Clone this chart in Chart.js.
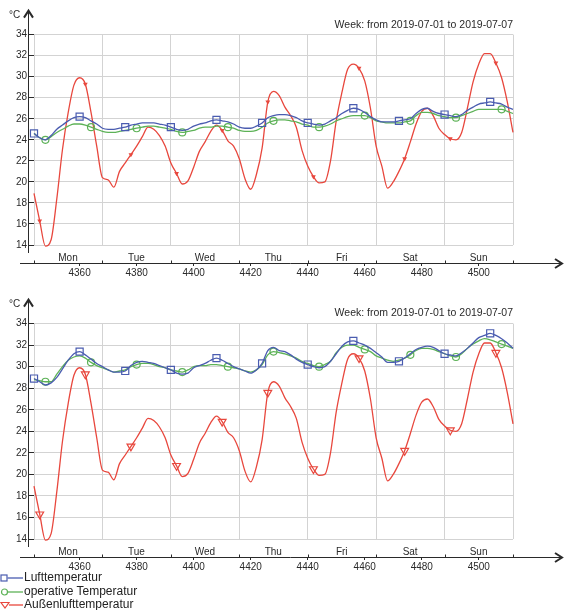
<!DOCTYPE html>
<html>
<head>
<meta charset="utf-8">
<script src="https://cdn.jsdelivr.net/npm/chart.js@4.4.1/dist/chart.umd.min.js"></script>
<style>
  html, body { margin: 0; padding: 0; background: #fff; }
  body { width: 565px; height: 610px; position: relative; overflow: hidden; font-family: "Liberation Sans", Arial, sans-serif; }
  .box { position: absolute; left: 0; width: 565px; height: 285px; }
  #top { top: 0; }
  #bottom { top: 290px; }
  #legend { position: absolute; left: 0; top: 571px; font-size: 12px; color: #222; }
  #legend div { height: 13.5px; line-height: 13.5px; display: flex; align-items: center; white-space: nowrap; }
  #legend svg { margin-right: 1px; }
</style>
</head>
<body>
<div class="box" id="top"><canvas id="c1" width="565" height="285"></canvas></div>
<div class="box" id="bottom"><canvas id="c2" width="565" height="285"></canvas></div>
<div id="legend"></div>
<script>
// hours of the year, every 2 h, Mon 2019-07-01 00:00 .. Mon 2019-07-08 00:00
const hours = [
  4344, 4346, 4348, 4350, 4352, 4354, 4356, 4358, 4360, 4362,
  4364, 4366, 4368, 4370, 4372, 4374, 4376, 4378, 4380, 4382,
  4384, 4386, 4388, 4390, 4392, 4394, 4396, 4398, 4400, 4402,
  4404, 4406, 4408, 4410, 4412, 4414, 4416, 4418, 4420, 4422,
  4424, 4426, 4428, 4430, 4432, 4434, 4436, 4438, 4440, 4442,
  4444, 4446, 4448, 4450, 4452, 4454, 4456, 4458, 4460, 4462,
  4464, 4466, 4468, 4470, 4472, 4474, 4476, 4478, 4480, 4482,
  4484, 4486, 4488, 4490, 4492, 4494, 4496, 4498, 4500, 4502,
  4504, 4506, 4508, 4510, 4512
];
const dayStarts = [4344, 4368, 4392, 4416, 4440, 4464, 4488, 4512];
const dayNames = ['Mon', 'Tue', 'Wed', 'Thu', 'Fri', 'Sat', 'Sun'];
const hourTicks = [4360, 4380, 4400, 4420, 4440, 4460, 4480, 4500];
const titleText = 'Week: from 2019-07-01 to 2019-07-07';
const seriesNames = ['Lufttemperatur', 'operative Temperatur', 'Außenlufttemperatur'];

// Außenlufttemperatur (same in both charts)
const outdoor = [
  18.9, 16.3, 13.9, 14.5, 18.4, 23.1, 26.6, 29.2, 29.9, 29.3,
  26.6, 23.4, 20.4, 20.2, 19.5, 21.0, 21.8, 22.6, 23.4, 24.3,
  25.2, 25.0, 24.4, 23.4, 21.8, 20.8, 19.8, 20.1, 21.4, 22.9,
  23.8, 24.8, 25.4, 24.9, 23.9, 23.4, 22.2, 20.3, 19.3, 20.7,
  23.2, 27.6, 28.6, 28.2, 27.1, 26.3, 25.2, 23.0, 21.5, 20.5,
  19.9, 20.0, 22.0, 25.8, 28.5, 30.7, 31.2, 30.8, 29.6, 27.0,
  23.4, 21.5, 19.4, 20.0, 21.0, 22.2, 23.8, 25.5, 26.7, 27.0,
  26.3, 25.1, 24.5, 24.1, 24.0, 24.7, 27.0, 29.5, 31.2, 32.2,
  32.2, 31.3, 29.9, 27.6, 24.7
];
// upper chart
const airTop = [
  24.6, 24.2, 24.0, 24.4, 25.0, 25.4, 25.8, 26.1, 26.2, 26.1,
  25.8, 25.5, 25.1, 25.0, 25.0, 25.1, 25.2, 25.4, 25.5, 25.6,
  25.6, 25.6, 25.5, 25.4, 25.2, 25.0, 24.9, 25.0, 25.3, 25.5,
  25.6, 25.8, 25.9, 25.8, 25.7, 25.5, 25.2, 25.1, 25.1, 25.3,
  25.6, 26.1, 26.3, 26.4, 26.4, 26.3, 26.1, 25.8, 25.6, 25.5,
  25.4, 25.5, 25.8, 26.1, 26.5, 26.8, 27.0, 26.9, 26.6, 26.2,
  25.9, 25.7, 25.7, 25.7, 25.8, 25.9, 26.0, 26.5, 26.9, 27.0,
  26.7, 26.5, 26.4, 26.3, 26.2, 26.4, 26.8, 27.1, 27.4, 27.5,
  27.6, 27.5, 27.4, 27.1, 26.9
];
const operativeTop = [
  24.6, 24.2, 24.0, 24.3, 24.7, 25.0, 25.3, 25.5, 25.5, 25.4,
  25.2, 25.0, 24.8, 24.7, 24.7, 24.8, 24.9, 25.0, 25.1, 25.2,
  25.3, 25.3, 25.2, 25.1, 25.0, 24.8, 24.7, 24.8, 24.9, 25.1,
  25.2, 25.2, 25.3, 25.3, 25.2, 25.1, 24.9, 24.8, 24.8, 24.9,
  25.2, 25.6, 25.8, 25.9, 25.9, 25.8, 25.7, 25.5, 25.4, 25.2,
  25.2, 25.3, 25.5, 25.8, 26.0, 26.2, 26.3, 26.3, 26.3, 26.1,
  25.8, 25.7, 25.6, 25.6, 25.6, 25.7, 25.8, 26.3, 26.6, 26.6,
  26.5, 26.3, 26.2, 26.1, 26.1, 26.3, 26.5, 26.7, 26.9, 26.9,
  26.9, 26.9, 26.9, 26.7, 26.5
];
// lower chart
const airBottom = [
  28.9, 28.6, 28.3, 28.5, 29.0, 29.8, 30.6, 31.2, 31.4, 31.1,
  30.7, 30.3, 30.0, 29.7, 29.5, 29.5, 29.6, 30.1, 30.4, 30.5,
  30.4, 30.3, 30.1, 29.9, 29.7, 29.4, 29.3, 29.4, 29.9, 30.1,
  30.3, 30.6, 30.8, 30.6, 30.3, 30.0, 29.8, 29.6, 29.4, 29.7,
  30.3, 31.5, 31.8, 31.5, 31.4, 31.1, 30.7, 30.4, 30.2, 30.0,
  29.9, 30.0, 30.5, 31.2, 31.9, 32.3, 32.4, 32.2, 32.0, 31.7,
  31.3, 30.9, 30.4, 30.4, 30.5, 30.8, 31.2, 31.6, 31.8, 31.9,
  31.8, 31.5, 31.2, 31.1, 31.0, 31.3, 31.7, 32.2, 32.7, 32.9,
  33.1, 32.9, 32.6, 32.2, 31.7
];
const operativeBottom = [
  28.8, 28.7, 28.6, 28.6, 29.3, 30.0, 30.6, 30.9, 31.0, 30.8,
  30.4, 30.1, 29.9, 29.7, 29.5, 29.6, 29.7, 30.0, 30.2, 30.3,
  30.3, 30.2, 30.0, 29.9, 29.7, 29.6, 29.5, 29.7, 30.0, 30.1,
  30.1, 30.2, 30.2, 30.1, 30.0, 29.9, 29.8, 29.6, 29.5, 29.7,
  30.2, 31.1, 31.4, 31.3, 31.2, 31.0, 30.8, 30.5, 30.3, 30.1,
  30.0, 30.2, 30.5, 31.3, 31.8, 32.0, 32.0, 31.8, 31.6, 31.4,
  31.0, 30.8, 30.6, 30.5, 30.6, 30.8, 31.1, 31.5, 31.7, 31.7,
  31.6, 31.4, 31.2, 31.0, 30.9, 31.2, 31.7, 32.1, 32.4, 32.6,
  32.5, 32.3, 32.1, 31.9, 31.7
];

const BLUE = '#4a5cb0';
const GREEN = '#5db257';
const RED = '#e8473d';
const GRID = '#d3d3d3';
const INK = '#2a2a2a';

Chart.defaults.font.family = '"Liberation Sans", Arial, sans-serif';
Chart.defaults.font.size = 10;
Chart.defaults.color = INK;

function series(label, values, color, style, offset, radius, rotation) {
  return {
    label: label,
    data: hours.map((h, i) => ({ x: h, y: values[i] })),
    borderColor: color,
    backgroundColor: 'rgba(255,255,255,0)',
    borderWidth: 1.3,
    pointStyle: style,
    pointRotation: rotation || 0,
    pointRadius: ctx => (ctx.dataIndex % 8 === offset ? radius : 0),
    pointBorderColor: color,
    pointBackgroundColor: 'rgba(255,255,255,0)',
    pointBorderWidth: 1.2,
    pointHoverRadius: 0,
    cubicInterpolationMode: 'monotone',
    clip: false,
    markerStyle: style
  };
}

// axis lines with arrow heads, °C unit, day separators on the time axis
const axisArrows = {
  id: 'axisArrows',
  afterDraw(chart) {
    const { ctx, chartArea, scales } = chart;
    const ax = chartArea.left - 6 + 0.5;
    const tip = chartArea.top - 24;
    const ly = Math.round(scales.xh.top) + 0.5;
    ctx.save();
    ctx.strokeStyle = INK;
    ctx.lineWidth = 1;
    ctx.beginPath();
    ctx.moveTo(ax, chartArea.bottom + 8);
    ctx.lineTo(ax, tip + 1);
    ctx.moveTo(20, ly);
    ctx.lineTo(561, ly);
    dayStarts.forEach(v => {
      const x = Math.round(scales.x.getPixelForValue(v)) + 0.5;
      ctx.moveTo(x, ly - 3);
      ctx.lineTo(x, ly);
    });
    ctx.stroke();
    ctx.lineWidth = 2;
    ctx.beginPath();
    ctx.moveTo(ax - 4.5, tip + 7);
    ctx.lineTo(ax, tip);
    ctx.lineTo(ax + 4.5, tip + 7);
    ctx.moveTo(555, ly - 4.5);
    ctx.lineTo(562, ly);
    ctx.lineTo(555, ly + 4.5);
    ctx.stroke();
    ctx.fillStyle = INK;
    ctx.font = '10px "Liberation Sans", Arial, sans-serif';
    ctx.textAlign = 'left';
    ctx.textBaseline = 'middle';
    ctx.fillText('°C', 9, tip + 5);
    ctx.restore();
  }
};

function makeChart(id, air, operative, redRadius, titlePad, hourAxisHeight) {
  return new Chart(document.getElementById(id), {
    type: 'line',
    data: {
      datasets: [
        series(seriesNames[0], air, BLUE, 'rect', 0, 5),
        series(seriesNames[1], operative, GREEN, 'circle', 2, 3.5),
        series(seriesNames[2], outdoor, RED, 'triangle', 1, redRadius, 180)
      ]
    },
    options: {
      responsive: false,
      animation: false,
      events: [],
      layout: { padding: { left: 0, right: 52, top: 0, bottom: 0 } },
      plugins: {
        legend: { display: false },
        tooltip: { enabled: false },
        title: {
          display: true,
          text: titleText,
          align: 'end',
          color: INK,
          font: { size: 10.5, weight: 'normal' },
          padding: titlePad
        }
      },
      scales: {
        x: {
          type: 'linear',
          position: 'bottom',
          weight: 0,
          min: 4344,
          max: 4512,
          afterBuildTicks: scale => { scale.ticks = dayStarts.map(value => ({ value })); },
          afterFit: scale => { scale.height = 18; },
          grid: { color: GRID, drawTicks: false },
          border: { display: false },
          ticks: {
            autoSkip: false,
            maxRotation: 0,
            padding: 7,
            labelOffset: 34,
            callback: (v, i) => dayNames[i] || ''
          }
        },
        xh: {
          type: 'linear',
          position: 'bottom',
          weight: 1,
          min: 4344,
          max: 4512,
          afterBuildTicks: scale => { scale.ticks = hourTicks.map(value => ({ value })); },
          afterFit: scale => { scale.height = hourAxisHeight; },
          grid: { drawOnChartArea: false, drawTicks: true, tickLength: 3, tickColor: INK },
          border: { display: false },
          ticks: { autoSkip: false, maxRotation: 0, padding: 1, callback: v => String(v) }
        },
        y: {
          position: 'left',
          min: 14,
          max: 34,
          afterFit: scale => { scale.width = 34; },
          grid: { color: GRID, tickColor: INK, tickLength: 6 },
          border: { display: false },
          ticks: { stepSize: 2, padding: 1 }
        }
      }
    },
    plugins: [axisArrows]
  });
}

const topChart = makeChart('c1', airTop, operativeTop, 1.6, { top: 19, bottom: 3 }, 22);
const bottomChart = makeChart('c2', airBottom, operativeBottom, 4.5, { top: 17, bottom: 4 }, 18);

// legend under the lower chart, one entry per line
function legendIcon(style, color) {
  let mark = '';
  if (style === 'rect') mark = '<rect x="1" y="4" width="6" height="6" fill="none" stroke="' + color + '" stroke-width="1.2"/>';
  if (style === 'circle') mark = '<circle cx="4.5" cy="7" r="3" fill="none" stroke="' + color + '" stroke-width="1.2"/>';
  if (style === 'triangle') mark = '<polygon points="1,4.5 9,4.5 5,10" fill="none" stroke="' + color + '" stroke-width="1.2"/>';
  const x0 = style === 'triangle' ? 9 : 7.5;
  return '<svg width="23" height="13" viewBox="0 0 23 13"><line x1="' + x0 + '" y1="7" x2="23" y2="7" stroke="' + color + '" stroke-width="1.3"/>' + mark + '</svg>';
}
const legendEl = document.getElementById('legend');
bottomChart.data.datasets.forEach(ds => {
  const row = document.createElement('div');
  row.innerHTML = legendIcon(ds.markerStyle, ds.borderColor) + '<span>' + ds.label + '</span>';
  legendEl.appendChild(row);
});
</script>
</body>
</html>
